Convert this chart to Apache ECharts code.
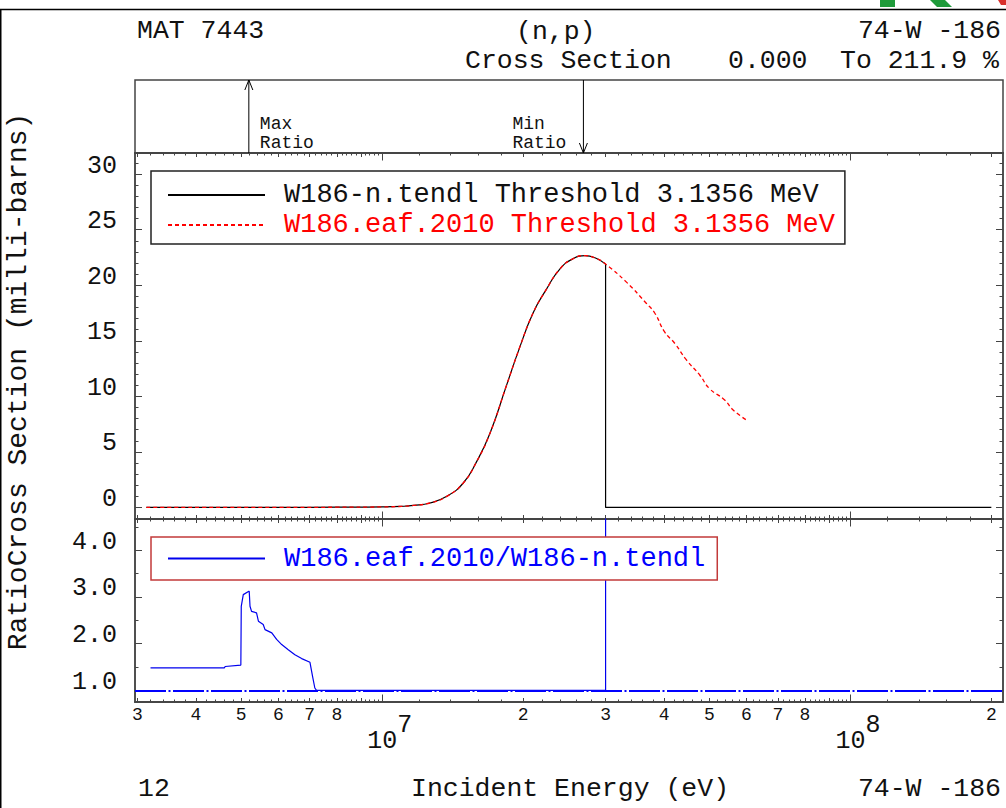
<!DOCTYPE html>
<html>
<head>
<meta charset="utf-8">
<script src="https://cdn.jsdelivr.net/npm/echarts@6/dist/echarts.min.js"></script>
<style>
  html, body { margin: 0; padding: 0; background: #fff; }
  #chart { width: 1006px; height: 808px; }
</style>
</head>
<body>
<div id="chart"></div>
<script>
// ---- Data: 74-W-186 (n,p) cross section, TENDL vs EAF-2010 ----
// Incident energies (eV) shared by both evaluations up to 30 MeV
const riseEnergy = [3.1356e6, 6.0e6, 8.0e6, 1.0e7, 1.1e7, 1.166e7, 1.265e7, 1.374e7, 1.49e7, 1.59e7,
                    1.70e7, 1.84e7, 1.97e7, 2.10e7, 2.24e7, 2.40e7, 2.56e7, 2.71e7, 2.87e7, 3.0e7];
// Cross sections (milli-barns)
const tendlXs = [0, 0, 0.02, 0.05, 0.1, 0.18, 0.4, 1.0, 2.2, 4.1,
                 6.7, 10.9, 14.5, 17.5, 19.6, 21.5, 22.4, 22.66, 22.4, 21.9];
const eafXs   = [0, 0, 0.02, 0.05, 0.1, 0.18, 0.4, 1.0, 2.2, 4.1,
                 6.7, 10.9, 14.5, 17.5, 19.6, 21.5, 22.4, 22.66, 22.4, 21.9];
// TENDL stops at 30 MeV and is zero above
const tendlDropEnergy = [3.0e7, 3.0e7, 2.0e8];
const tendlDropXs = [21.9, 0, 0];
// EAF-2010 continues to 60 MeV
const eafTailEnergy = [3.32e7, 3.66e7, 3.82e7, 4.01e7, 4.21e7, 4.46e7, 4.77e7, 5.0e7, 5.38e7, 5.61e7, 5.98e7];
const eafTailXs = [20.3, 18.4, 17.5, 15.8, 14.8, 13.3, 11.9, 10.7, 9.7, 8.8, 7.9];

// Ratio EAF-2010 / TENDL
const ratioEnergy = [3.2e6, 4.6e6, 4.62e6, 4.99e6, 5.0e6, 5.05e6, 5.18e6, 5.2e6, 5.22e6, 5.26e6,
                     5.39e6, 5.44e6, 5.57e6, 5.62e6, 5.81e6, 5.95e6, 6.10e6, 6.30e6, 6.51e6, 6.73e6,
                     7.01e6, 7.10e6, 7.18e6, 7.24e6, 3.0e7, 3.0e7];
const ratioValue = [1.48, 1.48, 1.51, 1.54, 2.80, 3.05, 3.119, 3.119, 2.80, 2.69,
                    2.66, 2.48, 2.41, 2.30, 2.23, 2.09, 1.98, 1.87, 1.76, 1.68,
                    1.60, 1.30, 1.05, 1.0, 1.0, 12.0];

// Locations of the extreme ratios shown in the strip above the plot
const extremeEnergy = [5.19e6, 2.69e7];
const extremeName = ['Max', 'Min'];
const extremeDir = [1, -1];

// Tick labels
const yMainLabels = [0, 5, 10, 15, 20, 25, 30];
const yRatioLabels = [1, 2, 3, 4];
const xNumberLabels = [3e6, 4e6, 5e6, 6e6, 7e6, 8e6, 2e7, 3e7, 4e7, 5e7, 6e7, 7e7, 8e7, 2e8];
const xDecadeLabels = [1e7, 1e8];

// ---- Axis layout ----
const xMin = 2.965e6, xMax = 2.118e8;
const FONT = 'Liberation Mono';
const AXIS_COLOR = '#444';

function decadeOf(v) { return Math.pow(10, Math.floor(Math.log10(v) + 1e-9)); }

const xDecadeTicks = [1e7, 1e8];
const xIntTicks = [];
const xFineTicks = [];
[1e6, 1e7, 1e8].forEach(function (dec) {
  for (let k = 5; k < 50; k++) {
    const v = dec * k / 5;
    if (v < xMin || v > xMax) continue;
    if (k === 5) continue;
    if (k % 5 === 0) xIntTicks.push(v); else xFineTicks.push(v);
  }
});
const yMainMinor = [];
for (let v = -1; v <= 31; v++) yMainMinor.push(v);
const yRatioMinor = [1.5, 2.5, 3.5, 4.5];

function xAxisDef(grid, pos, ticks, len, label) {
  return {
    type: 'log', logBase: 10, gridIndex: grid, position: pos, min: xMin, max: xMax,
    axisLine: { show: true, onZero: false, lineStyle: { color: AXIS_COLOR, width: 1.5 } },
    axisTick: { show: true, inside: true, length: len, customValues: ticks,
                lineStyle: { color: AXIS_COLOR, width: 1 } },
    axisLabel: label || { show: false },
    splitLine: { show: false }, minorTick: { show: false }, minorSplitLine: { show: false }
  };
}
function yAxisDef(grid, pos, min, max, ticks, len, label) {
  return {
    type: 'value', gridIndex: grid, position: pos, min: min, max: max,
    axisLine: { show: true, onZero: false, lineStyle: { color: AXIS_COLOR, width: 1.5 } },
    axisTick: { show: true, inside: true, length: len, customValues: ticks,
                lineStyle: { color: AXIS_COLOR, width: 1 } },
    axisLabel: label || { show: false },
    splitLine: { show: false }
  };
}

const numberLabel = {
  show: true, customValues: xNumberLabels, margin: 4, fontSize: 18, fontFamily: FONT, color: '#111',
  formatter: function (v) { return String(Math.round(v / decadeOf(v))); }
};
const decadeLabel = {
  show: true, customValues: xDecadeLabels, margin: 11, fontFamily: FONT, color: '#111',
  formatter: function (v) { return '{b|10}{s|' + Math.round(Math.log10(v)) + '}'; },
  rich: {
    b: { fontSize: 25, fontFamily: FONT, color: '#111', verticalAlign: 'bottom', lineHeight: 41, padding: [0, 0, 0, 15] },
    s: { fontSize: 25, fontFamily: FONT, color: '#111', verticalAlign: 'top', lineHeight: 41 }
  }
};
// Tick numbers on the value axes sit slightly above their ticks
const mainYLabel = {
  show: true, customValues: yMainLabels, margin: 18, fontSize: 25, fontFamily: FONT, color: '#111',
  verticalAlign: 'bottom', lineHeight: 16
};
const ratioYLabel = {
  show: true, customValues: yRatioLabels, margin: 18, fontSize: 25, fontFamily: FONT, color: '#111',
  verticalAlign: 'bottom', lineHeight: 16, formatter: function (v) { return v.toFixed(1); }
};

const xAxes = [
  // 0: strip above the plot
  { type: 'log', logBase: 10, gridIndex: 0, min: xMin, max: xMax, show: false },
  // 1-6: cross-section panel
  xAxisDef(1, 'bottom', xFineTicks, 2.5), xAxisDef(1, 'bottom', xIntTicks, 4), xAxisDef(1, 'bottom', xDecadeTicks, 7.5),
  xAxisDef(1, 'top', xFineTicks, 2.5), xAxisDef(1, 'top', xIntTicks, 4), xAxisDef(1, 'top', xDecadeTicks, 7.5),
  // 7-12: ratio panel
  xAxisDef(2, 'bottom', xFineTicks, 2.5), xAxisDef(2, 'bottom', xIntTicks, 4, numberLabel),
  xAxisDef(2, 'bottom', xDecadeTicks, 7.5, decadeLabel),
  xAxisDef(2, 'top', xFineTicks, 2.5), xAxisDef(2, 'top', xIntTicks, 4), xAxisDef(2, 'top', xDecadeTicks, 7.5)
];
const yAxes = [
  { type: 'value', gridIndex: 0, min: 0, max: 1, show: false },
  yAxisDef(1, 'left', -1.04, 31.9, yMainLabels, 7, mainYLabel),
  yAxisDef(1, 'left', -1.04, 31.9, yMainMinor, 3.5),
  yAxisDef(1, 'right', -1.04, 31.9, yMainLabels, 7),
  yAxisDef(1, 'right', -1.04, 31.9, yMainMinor, 3.5),
  yAxisDef(2, 'left', 0.75, 4.67, yRatioLabels, 7, ratioYLabel),
  yAxisDef(2, 'left', 0.75, 4.67, yRatioMinor, 3.5),
  yAxisDef(2, 'right', 0.75, 4.67, yRatioLabels, 7),
  yAxisDef(2, 'right', 0.75, 4.67, yRatioMinor, 3.5)
];

function zip(xs, ys) { return xs.map(function (x, i) { return [x, ys[i]]; }); }

const TENDL = 'W186-n.tendl Threshold 3.1356 MeV';
const EAF = 'W186.eaf.2010 Threshold 3.1356 MeV';
const RATIO = 'W186.eaf.2010/W186-n.tendl';

function legendDef(names, left, top, pad, border, textColor) {
  return {
    orient: 'vertical', left: left, top: top, padding: pad, itemWidth: 97, itemHeight: 14, itemGap: 0,
    selectedMode: false, borderColor: border, borderWidth: 1.5, borderRadius: 0, backgroundColor: '#fff',
    itemStyle: { opacity: 0 },
    data: names,
    formatter: function (n) { return '{t|' + n + '}'; },
    textStyle: {
      fontFamily: FONT, fontSize: 27, color: textColor, lineHeight: 30,
      rich: { t: { fontFamily: FONT, fontSize: 27, lineHeight: 30, padding: [0, 0, 0, 14] } }
    }
  };
}

function txt(x, y, s, align, size, extra) {
  return Object.assign({
    type: 'text', x: x, y: y, silent: true,
    style: { text: s, fill: '#111', font: (size || 26.5) + 'px "' + FONT + '"', align: align || 'left', verticalAlign: 'middle' }
  }, extra || {});
}

const option = {
  animation: false,
  backgroundColor: '#fff',
  grid: [
    { left: 135, right: 3, top: 80, height: 73, show: true, borderColor: AXIS_COLOR, borderWidth: 1.5, backgroundColor: 'transparent' },
    { left: 135, right: 3, top: 153, height: 366 },
    { left: 135, right: 3, top: 519, height: 183 }
  ],
  xAxis: xAxes,
  yAxis: yAxes,
  legend: [
    legendDef([TENDL, { name: EAF, textStyle: { color: '#ff0000' } }], 151, 171, [9, 10, 4, 16], '#222', '#111'),
    legendDef([RATIO], 151, 537, [6.5, 12, 6.5, 16], '#c23a3a', '#0000ff')
  ],
  series: [
    {
      name: TENDL, type: 'line', xAxisIndex: 1, yAxisIndex: 1, symbol: 'none', smooth: 0.5,
      lineStyle: { color: '#000', width: 1.2 }, itemStyle: { color: '#000' },
      data: zip(riseEnergy, tendlXs), z: 2
    },
    {
      name: TENDL, type: 'line', xAxisIndex: 1, yAxisIndex: 1, symbol: 'none',
      lineStyle: { color: '#000', width: 1.2 }, itemStyle: { color: '#000' },
      data: zip(tendlDropEnergy, tendlDropXs), z: 2
    },
    {
      name: EAF, type: 'line', xAxisIndex: 1, yAxisIndex: 1, symbol: 'none', smooth: 0.5,
      lineStyle: { color: '#ff0000', width: 1.3, type: [4, 3] }, itemStyle: { color: '#ff0000' },
      data: zip(riseEnergy, eafXs).concat(zip(eafTailEnergy, eafTailXs)), z: 3
    },
    {
      name: RATIO, type: 'line', xAxisIndex: 7, yAxisIndex: 5, symbol: 'none',
      lineStyle: { color: '#0000ee', width: 1.2 }, itemStyle: { color: '#0000ee' },
      data: zip(ratioEnergy, ratioValue), z: 3,
      markLine: {
        silent: true, symbol: ['none', 'none'], label: { show: false },
        lineStyle: { color: '#0000ff', width: 2, type: [31, 2.5, 2, 2.5] },
        data: [{ yAxis: 1 }]
      }
    },
    {
      name: 'extremes', type: 'custom', xAxisIndex: 0, yAxisIndex: 0, silent: true, clip: false,
      data: extremeEnergy.map(function (e, i) { return [e, extremeDir[i]]; }),
      renderItem: function (params, api) {
        const x = api.coord([api.value(0), 0.5])[0];
        const cs = params.coordSys;
        const top = cs.y, bot = cs.y + cs.height;
        const up = api.value(1) > 0;
        const tip = up ? top : bot;
        const back = up ? tip + 10 : tip - 10;
        const tx = up ? x + 11 : x - 71;
        const tstyle = function (s) {
          return { text: s, fill: '#111', fontFamily: FONT, fontSize: 18, align: 'left', verticalAlign: 'middle' };
        };
        return {
          type: 'group',
          children: [
            { type: 'line', shape: { x1: x, y1: top, x2: x, y2: bot }, style: { stroke: '#000', lineWidth: 1 } },
            { type: 'polyline', shape: { points: [[x - 4, back], [x, tip], [x + 4, back]] },
              style: { stroke: '#000', lineWidth: 1, fill: 'none' } },
            { type: 'text', x: tx, y: top + 44, style: tstyle(extremeName[params.dataIndex]) },
            { type: 'text', x: tx, y: top + 63, style: tstyle('Ratio') }
          ]
        };
      }
    }
  ],
  graphic: [
    { type: 'line', silent: true, shape: { x1: 0, y1: 9.5, x2: 1006, y2: 9.5 }, style: { stroke: '#000', lineWidth: 1.5 } },
    { type: 'line', silent: true, shape: { x1: 0.75, y1: 9, x2: 0.75, y2: 808 }, style: { stroke: '#000', lineWidth: 1.5 } },
    // corner of a logo cut off by the page edge
    { type: 'polygon', silent: true, shape: { points: [[880, 0], [895, 0], [895, 7], [880, 7]] }, style: { fill: '#1f9a3a' } },
    { type: 'polygon', silent: true, shape: { points: [[930, 0], [945, 0], [952, 7], [937, 7]] }, style: { fill: '#1f9a3a' } },
    { type: 'polygon', silent: true, shape: { points: [[998, 0], [1006, 0], [1006, 5], [1001, 5]] }, style: { fill: '#d9302c' } },
    txt(137, 30.5, 'MAT 7443'),
    txt(516, 31.5, '(n,p)'),
    txt(1001, 30.5, '74-W -186', 'right'),
    txt(465, 60.5, 'Cross Section'),
    txt(728, 60.5, '0.000'),
    txt(840, 60.5, 'To 211.9 %'),
    txt(138, 789, '12'),
    txt(411, 789, 'Incident Energy (eV)'),
    txt(1001, 789, '74-W -186', 'right'),
    txt(18, 381.5, 'RatioCross Section (milli-barns)', 'center', 28, { rotation: Math.PI / 2 })
  ]
};

const chart = echarts.init(document.getElementById('chart'), null, { renderer: 'svg', width: 1006, height: 808 });
chart.setOption(option);
</script>
</body>
</html>
